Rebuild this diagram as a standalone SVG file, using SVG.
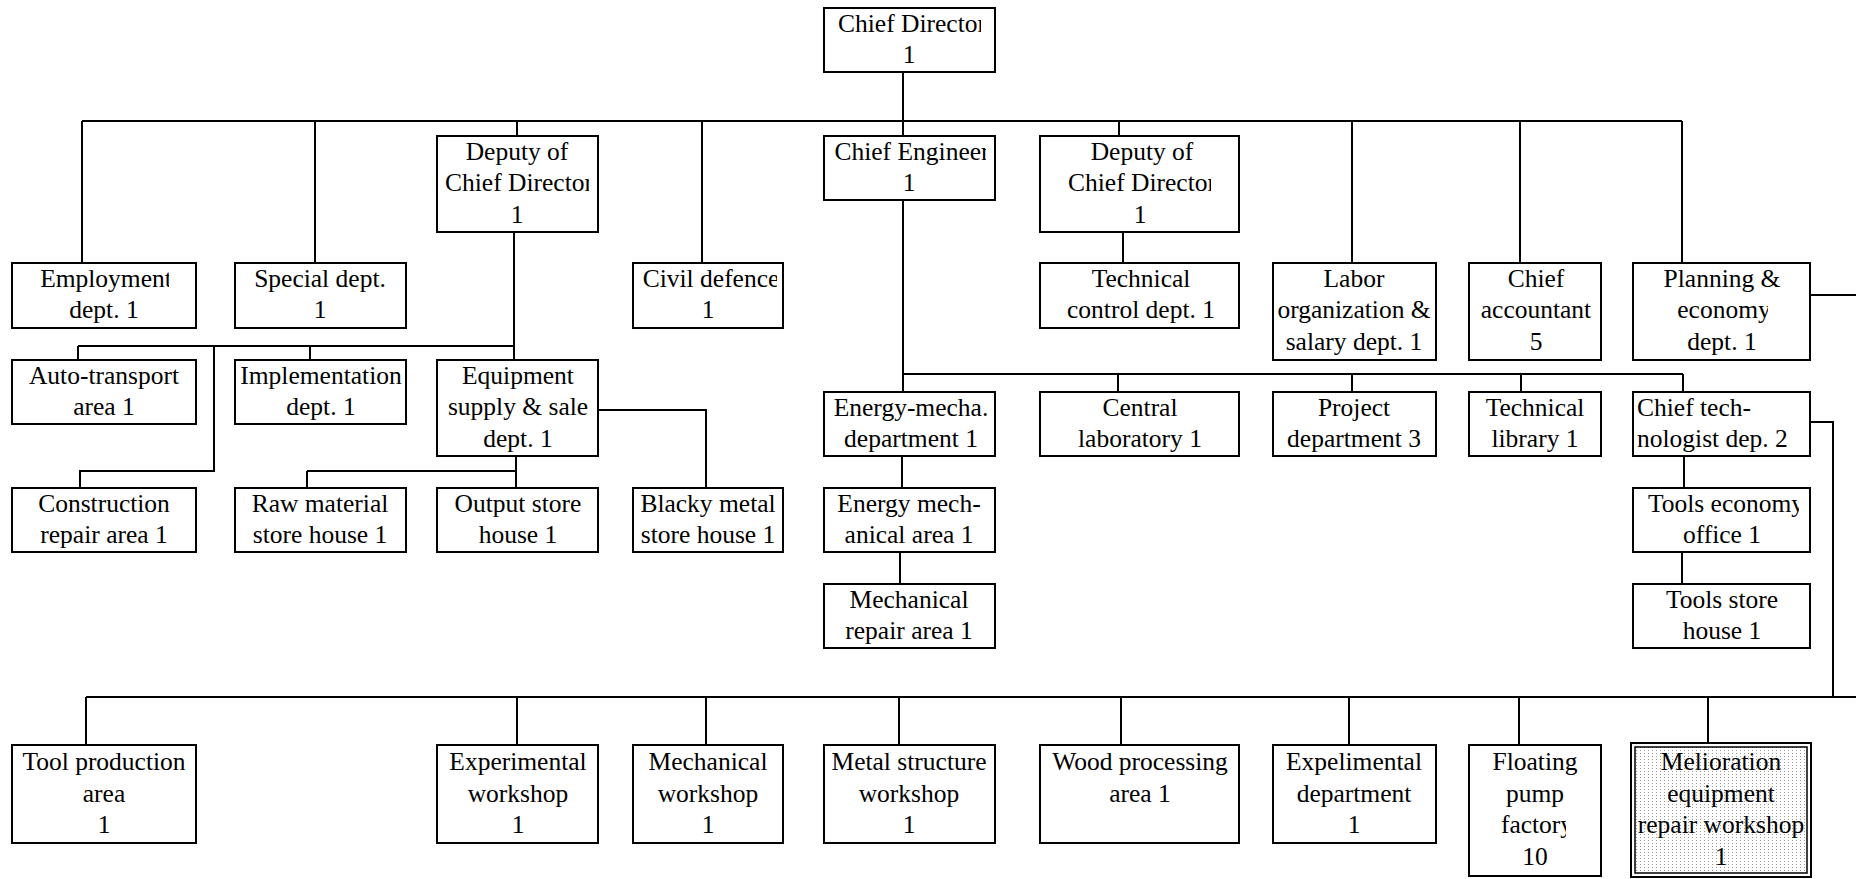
<svg xmlns="http://www.w3.org/2000/svg" width="1856" height="879" viewBox="0 0 1856 879">
<style>
.box{fill:#fff;stroke:#000;stroke-width:2}
.t{font-family:"Liberation Serif","Times New Roman",serif;font-size:25.5px;text-anchor:middle;fill:#000}
.l{text-anchor:start}
.c{stroke:#000;stroke-width:2;fill:none}
</style>
<defs>
<pattern id="dots" width="4" height="3" patternUnits="userSpaceOnUse"><rect width="4" height="3" fill="#fff"/><rect width="1" height="1" fill="#999"/></pattern>
<clipPath id="cpCD"><rect x="824" y="0" width="157" height="80"/></clipPath>
<clipPath id="cpD1"><rect x="437" y="130" width="152" height="110"/></clipPath>
<clipPath id="cpCE"><rect x="824" y="130" width="162" height="80"/></clipPath>
<clipPath id="cpD2"><rect x="1040" y="130" width="171" height="110"/></clipPath>
<clipPath id="cpEmp"><rect x="12" y="255" width="157" height="80"/></clipPath>
<clipPath id="cpCiv"><rect x="633" y="255" width="144" height="80"/></clipPath>
<clipPath id="cpPlan"><rect x="1633" y="255" width="135" height="110"/></clipPath>
<clipPath id="cpTE"><rect x="1633" y="480" width="166" height="80"/></clipPath>
<clipPath id="cpFac"><rect x="1469" y="740" width="97" height="139"/></clipPath>
</defs>

<g id="connectors">
<path class="c" d="M903,72 V121"/>
<path class="c" d="M82,121 H1682"/>
<path class="c" d="M82,121 V263 M315,121 V263 M517,121 V136 M702,121 V263 M903,121 V136 M1119,121 V136 M1352,121 V263 M1520,121 V263 M1682,121 V263"/>
<path class="c" d="M514,232 V360 M78,346 H514 M78,346 V360 M310,346 V360"/>
<path class="c" d="M214,346 V471 H80 V488"/>
<path class="c" d="M516,456 V488 M307,471 H516 M307,471 V488"/>
<path class="c" d="M598,410 H706 V488"/>
<path class="c" d="M1123,232 V263"/>
<path class="c" d="M903,200 V392 M903,374 H1683 M1118,374 V392 M1352,374 V392 M1521,374 V392 M1683,374 V392"/>
<path class="c" d="M902,456 V488 M900,552 V584"/>
<path class="c" d="M1684,456 V488 M1682,552 V584"/>
<path class="c" d="M1810,422 H1833 V697"/>
<path class="c" d="M1810,295 H1856"/>
<path class="c" d="M86,697 H1856"/>
<path class="c" d="M86,697 V745 M517,697 V745 M706,697 V745 M899,697 V745 M1121,697 V745 M1349,697 V745 M1519,697 V745 M1708,697 V743"/>
</g>

<g id="chief_director"><rect class="box" x="824" y="8" width="171" height="64"/><text class="t" x="912" y="31.5" clip-path="url(#cpCD)">Chief Director</text><text class="t" x="909" y="63">1</text></g>

<g id="deputy1"><rect class="box" x="437" y="136" width="161" height="96"/><text class="t" x="517" y="159.5">Deputy of</text><text class="t" x="519" y="191" clip-path="url(#cpD1)">Chief Director</text><text class="t" x="517" y="222.5">1</text></g>
<g id="chief_engineer"><rect class="box" x="824" y="136" width="171" height="64"/><text class="t" x="912" y="159.5" clip-path="url(#cpCE)">Chief Engineer</text><text class="t" x="909" y="191">1</text></g>
<g id="deputy2"><rect class="box" x="1040" y="136" width="199" height="96"/><text class="t" x="1142" y="159.5">Deputy of</text><text class="t" x="1142" y="191" clip-path="url(#cpD2)">Chief Director</text><text class="t" x="1140" y="222.5">1</text></g>

<g id="employment"><rect class="box" x="12" y="263" width="184" height="65"/><text class="t" x="106" y="286.5" clip-path="url(#cpEmp)">Employment</text><text class="t" x="104" y="318">dept. 1</text></g>
<g id="special"><rect class="box" x="235" y="263" width="171" height="65"/><text class="t" x="320" y="286.5">Special dept.</text><text class="t" x="320" y="318">1</text></g>
<g id="civil_defence"><rect class="box" x="633" y="263" width="150" height="65"/><text class="t" x="711" y="286.5" clip-path="url(#cpCiv)">Civil defence</text><text class="t" x="708" y="318">1</text></g>
<g id="technical_control"><rect class="box" x="1040" y="263" width="199" height="65"/><text class="t" x="1141" y="286.5">Technical</text><text class="t" x="1141" y="318">control dept. 1</text></g>
<g id="labor"><rect class="box" x="1273" y="263" width="163" height="97"/><text class="t" x="1354" y="286.5">Labor</text><text class="t" x="1354" y="318">organization &amp;</text><text class="t" x="1354" y="349.5">salary dept. 1</text></g>
<g id="accountant"><rect class="box" x="1469" y="263" width="132" height="97"/><text class="t" x="1536" y="286.5">Chief</text><text class="t" x="1536" y="318">accountant</text><text class="t" x="1536" y="349.5">5</text></g>
<g id="planning"><rect class="box" x="1633" y="263" width="177" height="97"/><text class="t" x="1722" y="286.5">Planning &amp;</text><text class="t" x="1724" y="318" clip-path="url(#cpPlan)">economy</text><text class="t" x="1722" y="349.5">dept. 1</text></g>

<g id="auto_transport"><rect class="box" x="12" y="360" width="184" height="64"/><text class="t" x="104" y="383.5">Auto-transport</text><text class="t" x="104" y="415">area 1</text></g>
<g id="implementation"><rect class="box" x="235" y="360" width="171" height="64"/><text class="t" x="321" y="383.5">Implementation</text><text class="t" x="321" y="415">dept. 1</text></g>
<g id="equipment_supply"><rect class="box" x="437" y="360" width="161" height="96"/><text class="t" x="518" y="383.5">Equipment</text><text class="t" x="518" y="415">supply &amp; sale</text><text class="t" x="518" y="446.5">dept. 1</text></g>

<g id="energy_mecha_dept"><rect class="box" x="824" y="392" width="171" height="64"/><text class="t" x="911" y="415.5">Energy-mecha.</text><text class="t" x="911" y="447">department 1</text></g>
<g id="central_lab"><rect class="box" x="1040" y="392" width="199" height="64"/><text class="t" x="1140" y="415.5">Central</text><text class="t" x="1140" y="447">laboratory 1</text></g>
<g id="project"><rect class="box" x="1273" y="392" width="163" height="64"/><text class="t" x="1354" y="415.5">Project</text><text class="t" x="1354" y="447">department 3</text></g>
<g id="tech_library"><rect class="box" x="1469" y="392" width="132" height="64"/><text class="t" x="1535" y="415.5">Technical</text><text class="t" x="1535" y="447">library 1</text></g>
<g id="chief_technologist"><rect class="box" x="1633" y="392" width="177" height="64"/><text class="t l" x="1637" y="415.5">Chief tech-</text><text class="t l" x="1637" y="447">nologist dep. 2</text></g>

<g id="construction"><rect class="box" x="12" y="488" width="184" height="64"/><text class="t" x="104" y="511.5">Construction</text><text class="t" x="104" y="543">repair area 1</text></g>
<g id="raw_material"><rect class="box" x="235" y="488" width="171" height="64"/><text class="t" x="320" y="511.5">Raw material</text><text class="t" x="320" y="543">store house 1</text></g>
<g id="output_store"><rect class="box" x="437" y="488" width="161" height="64"/><text class="t" x="518" y="511.5">Output store</text><text class="t" x="518" y="543">house 1</text></g>
<g id="blacky_metal"><rect class="box" x="633" y="488" width="150" height="64"/><text class="t" x="708" y="511.5">Blacky metal</text><text class="t" x="708" y="543">store house 1</text></g>
<g id="energy_mech_area"><rect class="box" x="824" y="488" width="171" height="64"/><text class="t" x="909" y="511.5">Energy mech-</text><text class="t" x="909" y="543">anical area 1</text></g>
<g id="tools_economy"><rect class="box" x="1633" y="488" width="177" height="64"/><text class="t" x="1726" y="511.5" clip-path="url(#cpTE)">Tools economy</text><text class="t" x="1722" y="543">office 1</text></g>

<g id="mechanical_repair"><rect class="box" x="824" y="584" width="171" height="64"/><text class="t" x="909" y="607.5">Mechanical</text><text class="t" x="909" y="639">repair area 1</text></g>
<g id="tools_store"><rect class="box" x="1633" y="584" width="177" height="64"/><text class="t" x="1722" y="607.5">Tools store</text><text class="t" x="1722" y="639">house 1</text></g>

<g id="tool_production"><rect class="box" x="12" y="745" width="184" height="98"/><text class="t" x="104" y="770">Tool production</text><text class="t" x="104" y="801.5">area</text><text class="t" x="104" y="833">1</text></g>
<g id="experimental_workshop"><rect class="box" x="437" y="745" width="161" height="98"/><text class="t" x="518" y="770">Experimental</text><text class="t" x="518" y="801.5">workshop</text><text class="t" x="518" y="833">1</text></g>
<g id="mechanical_workshop"><rect class="box" x="633" y="745" width="150" height="98"/><text class="t" x="708" y="770">Mechanical</text><text class="t" x="708" y="801.5">workshop</text><text class="t" x="708" y="833">1</text></g>
<g id="metal_structure"><rect class="box" x="824" y="745" width="171" height="98"/><text class="t" x="909" y="770">Metal structure</text><text class="t" x="909" y="801.5">workshop</text><text class="t" x="909" y="833">1</text></g>
<g id="wood_processing"><rect class="box" x="1040" y="745" width="199" height="98"/><text class="t" x="1140" y="770">Wood processing</text><text class="t" x="1140" y="801.5">area 1</text></g>
<g id="expelimental_dept"><rect class="box" x="1273" y="745" width="163" height="98"/><text class="t" x="1354" y="770">Expelimental</text><text class="t" x="1354" y="801.5">department</text><text class="t" x="1354" y="833">1</text></g>
<g id="floating_pump"><rect class="box" x="1469" y="745" width="132" height="131"/><text class="t" x="1535" y="770">Floating</text><text class="t" x="1535" y="801.5">pump</text><text class="t" x="1537" y="833" clip-path="url(#cpFac)">factory</text><text class="t" x="1535" y="864.5">10</text></g>
<g id="melioration"><rect class="box" x="1631" y="743" width="180" height="134"/><rect x="1635" y="747" width="172" height="126" fill="url(#dots)" stroke="#000" stroke-width="1.5"/><text class="t" x="1721" y="770">Melioration</text><text class="t" x="1721" y="801.5">equipment</text><text class="t" x="1721" y="833">repair workshop</text><text class="t" x="1721" y="864.5">1</text></g>
</svg>
